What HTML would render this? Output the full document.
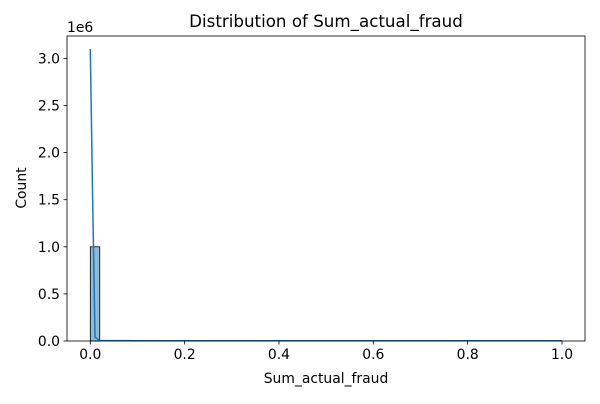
<!DOCTYPE html>
<html><head><meta charset="utf-8"><style>
body{margin:0;background:#fff;font-family:"DejaVu Sans",sans-serif}
svg text{font-family:"DejaVu Sans",sans-serif;fill:#000}
</style></head><body>
<svg id="c" width="600" height="400"></svg>
<script>
const binEdges=[0,0.02,0.04,0.06,0.08,0.1,0.12,0.14,0.16,0.18,0.2,0.22,0.24,0.26,0.28,0.3,0.32,0.34,0.36,0.38,0.4,0.42,0.44,0.46,0.48,0.5,0.52,0.54,0.56,0.58,0.6,0.62,0.64,0.66,0.68,0.7,0.72,0.74,0.76,0.78,0.8,0.82,0.84,0.86,0.88,0.9,0.92,0.94,0.96,0.98,1.0];
const binCounts=[1000000,0,0,0,0,0,0,0,0,0,0,0,0,0,0,0,0,0,0,0,0,0,0,0,0,0,0,0,0,0,0,0,0,0,0,0,0,0,0,0,0,0,0,0,0,0,0,0,0,1200];
const kdeX=[0,0.005,0.01,0.02,0.1,0.5,1.0];
const kdeY=[3100000,1500000,40000,5000,3000,3000,3000];
const xTicks=[0,0.2,0.4,0.6,0.8,1.0];
const xTickLabels=["0.0","0.2","0.4","0.6","0.8","1.0"];
const yTicks=[0,500000,1000000,1500000,2000000,2500000,3000000];
const yTickLabels=["0.0","0.5","1.0","1.5","2.0","2.5","3.0"];
const NS="http://www.w3.org/2000/svg";
const svg=document.getElementById('c');
const L=67,R=585,T=36,B=341;
const X=v=>90.3+v*(562-90.3);
const Y=v=>B-v/500000*47.1;
function el(t,a,p){const e=document.createElementNS(NS,t);for(const k in a)e.setAttribute(k,a[k]);(p||svg).appendChild(e);return e;}
binCounts.forEach((c,i)=>{
 const r=el('rect',{x:X(binEdges[i]),y:Y(c),width:X(binEdges[i+1])-X(binEdges[i]),height:B-Y(c),fill:'rgba(31,119,180,0.5)',stroke:'#000','stroke-width':0.8});
 
 
});
const pts=kdeX.map((x,i)=>X(x)+','+Y(kdeY[i])).join(' ');
const kl=el('polyline',{points:pts,fill:'none',stroke:'#1f77b4','stroke-width':1.5});


const fr=el('rect',{x:L,y:T,width:R-L,height:B-T,fill:'none',stroke:'#000','stroke-width':0.8});


xTicks.forEach((v,i)=>{
 el('line',{x1:X(v),x2:X(v),y1:B,y2:B+3.5,stroke:'#000','stroke-width':0.8});
 const t=el('text',{x:X(v),y:B+18,'text-anchor':'middle','font-size':13.9});t.textContent=xTickLabels[i];
 
 
});
yTicks.forEach((v,i)=>{
 el('line',{x1:L,x2:L-3.5,y1:Y(v),y2:Y(v),stroke:'#000','stroke-width':0.8});
 const t=el('text',{x:L-7,y:Y(v)+5,'text-anchor':'end','font-size':13.9});t.textContent=yTickLabels[i];
 
 
});
</script>
<svg width="600" height="400" style="position:absolute;left:0;top:0">
<text x="67" y="32" font-size="13.9">1e6</text>
<text x="326" y="27" font-size="16.7" text-anchor="middle">Distribution of Sum_actual_fraud</text>
<text x="326" y="383" font-size="13.9" text-anchor="middle">Sum_actual_fraud</text>
<text x="26" y="188" font-size="13.9" text-anchor="middle" transform="rotate(-90 26 188)">Count</text>
</svg>
</body></html>
